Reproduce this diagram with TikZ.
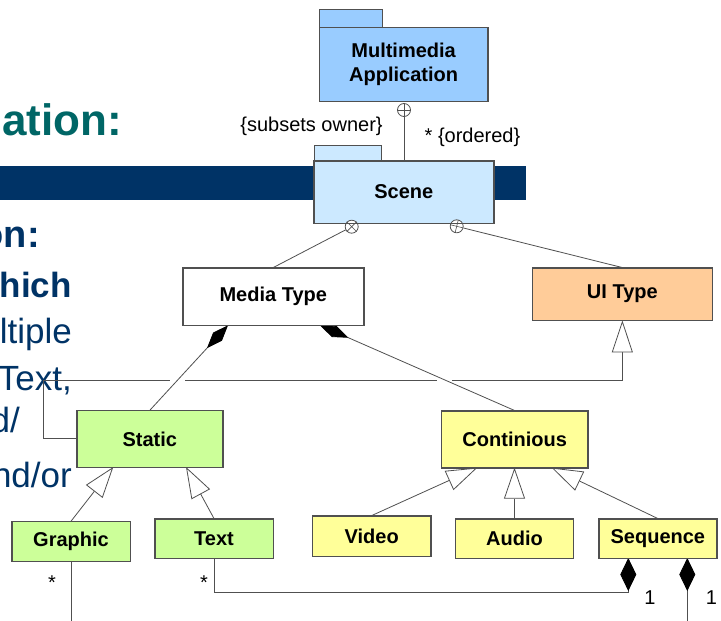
\documentclass[tikz,border=0pt]{standalone}
\usepackage{fontspec}
\setmainfont{Liberation Sans}
\usetikzlibrary{arrows.meta,calc}
\definecolor{barblue}{RGB}{0,51,102}
\definecolor{headteal}{RGB}{0,102,102}
\definecolor{appblue}{RGB}{153,204,255}
\definecolor{sceneblue}{RGB}{204,233,255}
\definecolor{uiorange}{RGB}{255,204,153}
\definecolor{stgreen}{RGB}{204,255,153}
\definecolor{coyellow}{RGB}{255,255,153}
\definecolor{edge}{RGB}{80,80,80}
\tikzset{
  cls/.style={draw=edge, line width=0.9pt, inner sep=0pt, align=center,
    font=\bfseries\fontsize{20}{24}\selectfont},
  tabbox/.style={draw=edge, line width=0.9pt},
  conn/.style={draw=edge, line width=0.8pt},
  gen/.style={conn, -{Triangle[open, fill=white, length=31pt, width=21pt]}},
  comp/.style={conn, {Diamond[length=31pt, width=12pt, black]}-},
  comps/.style={conn, {Diamond[length=33pt, width=16pt, black]}-},
  lbl/.style={inner sep=0pt, font=\fontsize{20}{23}\selectfont},
  bigbold/.style={inner sep=0pt, anchor=base east, text=barblue, font=\bfseries\fontsize{38}{44}\selectfont},
  midbold/.style={inner sep=0pt, anchor=base east, text=barblue, font=\bfseries\fontsize{35}{40}\selectfont},
  plain/.style={inner sep=0pt, anchor=base east, text=barblue, font=\fontsize{35}{40}\selectfont},
  owncirc/.style={circle, draw=edge, line width=0.8pt, fill=white, minimum size=13pt, inner sep=0pt}
}
\begin{document}
\begin{tikzpicture}[x=1pt, y=-1pt]
\useasboundingbox (0,0) rectangle (721,621);
\fill[white] (0,0) rectangle (721,621);
% background slide elements
\fill[barblue] (0,166) rectangle (526,200);
\node[inner sep=0pt, anchor=base east, text=headteal, font=\bfseries\fontsize{44}{50}\selectfont] (h1) at (122,135) {ation:};
\node[bigbold] (t1) at (40,247) {on:};
\node[midbold] (t2) at (72,297) {hich};
\node[plain] (t3) at (72,343) {ltiple};
\node[plain] (t4) at (72,390) {Text,};
\node[plain] (t5) at (20,432) {d/};
\node[plain] (t6) at (72,487) {nd/or};

% boxes
\draw[tabbox, fill=appblue] (319.5,9.3) rectangle (382.7,27.7);
\node[cls, fill=appblue, minimum width=168pt, minimum height=73.3pt] (app) at (403.6,64.3) {Multimedia\\Application};
\draw[tabbox, fill=sceneblue] (314,145) rectangle (381.5,161);
\node[cls, fill=sceneblue, minimum width=179.5pt, minimum height=62pt] (scene) at (403.75,192) {Scene};
\node[cls, fill=white, minimum width=180.5pt, minimum height=57pt] (media) at (273.25,296.5) {Media Type};
\node[cls, fill=uiorange, minimum width=179.3pt, minimum height=52pt] (ui) at (622.35,294) {UI Type};
\node[cls, fill=stgreen, minimum width=145.7pt, minimum height=56.3pt] (static) at (149.85,438.85) {Static};
\node[cls, fill=coyellow, minimum width=146pt, minimum height=56.7pt] (cont) at (514.7,439.35) {Continious};
\node[cls, fill=stgreen, minimum width=118pt, minimum height=39.3pt] (graphic) at (71,541.35) {Graphic};
\node[cls, fill=stgreen, minimum width=118pt, minimum height=39pt] (text) at (214,538.5) {Text};
\node[cls, fill=coyellow, minimum width=118pt, minimum height=40pt] (video) at (371.7,536) {Video};
\node[cls, fill=coyellow, minimum width=117.6pt, minimum height=39pt] (audio) at (514.5,538.5) {Audio};
\node[cls, fill=coyellow, minimum width=117.7pt, minimum height=39pt] (seq) at (657.85,538.5) {Sequence};

% anchor coordinates
\coordinate (mA) at (228,325.3);
\coordinate (mB) at (320,325.3);
\coordinate (gS) at (113.3,467);
\coordinate (tS) at (186,467);
\coordinate (vC) at (477.3,467.7);
\coordinate (aC) at (514.5,467.7);
\coordinate (sC) at (551.7,467.7);
\coordinate (k) at (43.3,380);
\coordinate (q1) at (628.3,558);
\coordinate (q2) at (687.3,558);
\coordinate (c1) at (628.3,592.7);
\coordinate (q2end) at (687.3,622);
\coordinate (gend) at (71,622);

% ownership circles
\node[owncirc] (o1) at (404,110) {};
\node[owncirc] (o2) at (351.7,226.7) {};
\node[owncirc] (o3) at (456.7,226.3) {};

% connectors
\draw[conn] (o1) -- (scene.north -| o1);
\draw[conn] (o2) -- (media.north);
\draw[conn] (o3) -- (ui.north);
% cross marks in circles
\draw[conn, line width=0.6pt] (o1.north) -- (o1.south) (o1.west) -- (o1.east);
\draw[conn, line width=0.6pt] (o2.45) -- (o2.225) (o2.135) -- (o2.315);
\draw[conn, line width=0.6pt] ($(o3)!6.5pt!(ui.north)$) -- ($(o3)!-6.5pt!(ui.north)$)
  ($(o3)!6.5pt!90:(ui.north)$) -- ($(o3)!6.5pt!-90:(ui.north)$);

% Static -> UI Type realization line with crossing gaps
\draw[gen, -{Triangle[open, fill=white, length=32pt, width=21pt]}] (static.west) -| (k) -| (ui.south);
\draw[white, line width=3pt] (170,380) -- (185,380);
\draw[white, line width=3pt] (437,380) -- (452,380);

% composition from Media Type
\draw[comp] (mA) -- (static.north);
\draw[comp] (mB) -- (cont.north);

% generalizations
\draw[gen] (graphic.north) -- (gS);
\draw[gen] (text.north) -- (tS);
\draw[gen] (video.north) -- (vC);
\draw[gen] (audio.north) -- (aC);
\draw[gen] (seq.north) -- (sC);

% Sequence compositions
\draw[comps] (q1) -- (c1) -| (text.south);
\draw[comps] (q2) -- (q2end);
\draw[conn] (graphic.south) -- (gend);

% redraw box borders over line ends
\foreach \n in {app,scene,media,ui,static,cont,graphic,text,video,audio,seq}{
  \draw[draw=edge, line width=0.9pt] (\n.south west) rectangle (\n.north east);
}

% labels
\node[lbl] (l1) at (311.5,126.5) {\{subsets owner\}};
\node[lbl] (l2) at (472.5,137.5) {* \{ordered\}};
\node[lbl] (l3) at (52,583) {*};
\node[lbl] (l4) at (204,583) {*};
\node[lbl] (l5) at (650,598) {1};
\node[lbl] (l6) at (711.5,598) {1};
\end{tikzpicture}
\end{document}
